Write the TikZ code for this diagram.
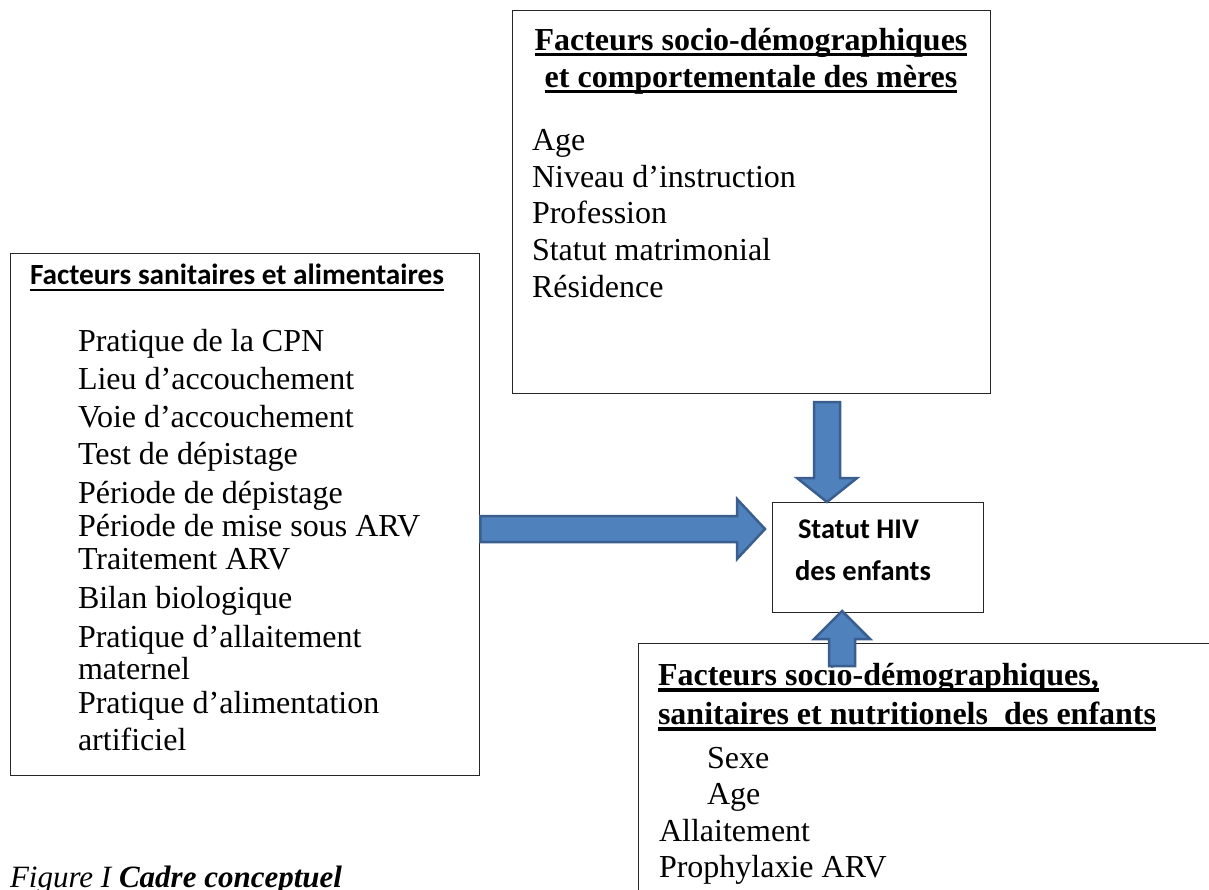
\documentclass[tikz,border=0pt]{standalone}
\usepackage{fontspec}
\setmainfont{Liberation Serif}
\newfontfamily\calfont{Carlito}
\usetikzlibrary{calc}
\definecolor{arrfill}{HTML}{4F81BD}
\definecolor{arrdraw}{HTML}{3A5F8E}
\newcommand\myul[3]{\setbox0=\hbox{#1}\rlap{\rule[-#2]{\wd0}{#3}}\box0}
\tikzset{
  box/.style={draw=black!85, line width=1.3pt, fill=white, inner sep=0pt},
  txt/.style={anchor=base west, inner sep=0pt, outer sep=0pt},
  item/.style={txt, font=\fontsize{32}{38}\selectfont},
  ttl/.style={anchor=base, inner sep=0pt, outer sep=0pt, font=\fontsize{32}{38}\selectfont\bfseries},
  bttl/.style={txt, font=\fontsize{32}{38}\selectfont\bfseries},
  stat/.style={txt, font=\calfont\fontsize{28.5}{34}\selectfont\bfseries},
  blockarrow/.style={fill=arrfill, draw=arrdraw, line width=2.5pt, line join=miter},
}
\begin{document}
\begin{tikzpicture}[x=1pt,y=-1pt]
\useasboundingbox[fill=white] (0,0) rectangle (1209,889);

% boxes
\node[box, anchor=north west, minimum width=469pt, minimum height=522pt] (sanit) at (10,253) {};
\node[box, anchor=north west, minimum width=478pt, minimum height=383pt] (meres) at (512,10) {};
\node[box, anchor=north west, minimum width=211pt, minimum height=110pt] (status) at (772,502) {};
\node[box, anchor=north west, minimum width=600pt, minimum height=270pt] (enfants) at (638,643) {};

% top box
\node[ttl] (m-t1) at (751,50) {\myul{Facteurs socio-démographiques}{6pt}{2.8pt}};
\node[ttl] (m-t2) at (751,87) {\myul{et comportementale des mères}{6pt}{2.8pt}};
\node[item] (m-1) at (532,150) {Age};
\node[item] (m-2) at (532,187) {Niveau d’instruction};
\node[item] (m-3) at (532,223) {Profession};
\node[item] (m-4) at (532,260) {Statut matrimonial};
\node[item] (m-5) at (532,297) {Résidence};

% left box
\node[txt, font=\calfont\fontsize{29.3}{34}\selectfont\bfseries] (s-t) at (30,284) {\myul{Facteurs sanitaires et alimentaires}{7pt}{2.3pt}};
\node[item] (s-1) at (78,351) {Pratique de la CPN};
\node[item] (s-2) at (78,389) {Lieu d’accouchement};
\node[item] (s-3) at (78,427) {Voie d’accouchement};
\node[item] (s-4) at (78,464) {Test de dépistage};
\node[item] (s-5) at (78,503) {Période de dépistage};
\node[item] (s-6) at (78,536) {Période de mise sous ARV};
\node[item] (s-7) at (78,569) {Traitement ARV};
\node[item] (s-8) at (78,608) {Bilan biologique};
\node[item] (s-9) at (78,647) {Pratique d’allaitement};
\node[item] (s-10) at (78,679) {maternel};
\node[item] (s-11) at (78,713) {Pratique d’alimentation};
\node[item] (s-12) at (78,750) {artificiel};

% status
\node[stat] (st-1) at (798,538) {Statut HIV};
\node[stat] (st-2) at (795,580) {des enfants};

% bottom box
\node[bttl] (e-t1) at (658,685) {\myul{Facteurs socio-démographiques,}{6.5pt}{3.5pt}};
\node[bttl] (e-t2) at (658,724) {\myul{sanitaires et nutritionels\ \ des enfants}{6.5pt}{3.5pt}};
\node[item] (e-1) at (707,768) {Sexe};
\node[item] (e-2) at (707,804) {Age};
\node[item] (e-3) at (659,841) {Allaitement};
\node[item] (e-4) at (659,877) {Prophylaxie ARV};

% caption
\node[txt, font=\fontsize{31}{36}\selectfont\itshape] (cap) at (10,887) {Figure I \textbf{Cadre conceptuel}};

% block arrows
\coordinate (ra-s) at (sanit.east |- 0,529);
\coordinate (ra-t) at (765,529);
\coordinate (da-s) at (827,402);
\coordinate (da-t) at (827,502);
\coordinate (ua-s) at (842,666);
\coordinate (ua-t) at (842,611);

\draw[blockarrow] ($(ra-s)+(0,-13)$) -- ($(ra-t)+(-28,-13)$) -- ($(ra-t)+(-28,-30)$) -- (ra-t)
  -- ($(ra-t)+(-28,30)$) -- ($(ra-t)+(-28,13)$) -- ($(ra-s)+(0,13)$) -- cycle;
\draw[blockarrow] ($(da-s)+(-13,0)$) -- ($(da-t)+(-13,-24)$) -- ($(da-t)+(-30,-24)$) -- (da-t)
  -- ($(da-t)+(30,-24)$) -- ($(da-t)+(13,-24)$) -- ($(da-s)+(13,0)$) -- cycle;
\draw[blockarrow] ($(ua-s)+(-13,0)$) -- ($(ua-t)+(-13,28)$) -- ($(ua-t)+(-28,28)$) -- (ua-t)
  -- ($(ua-t)+(28,28)$) -- ($(ua-t)+(13,28)$) -- ($(ua-s)+(13,0)$) -- cycle;
\end{tikzpicture}
\end{document}
